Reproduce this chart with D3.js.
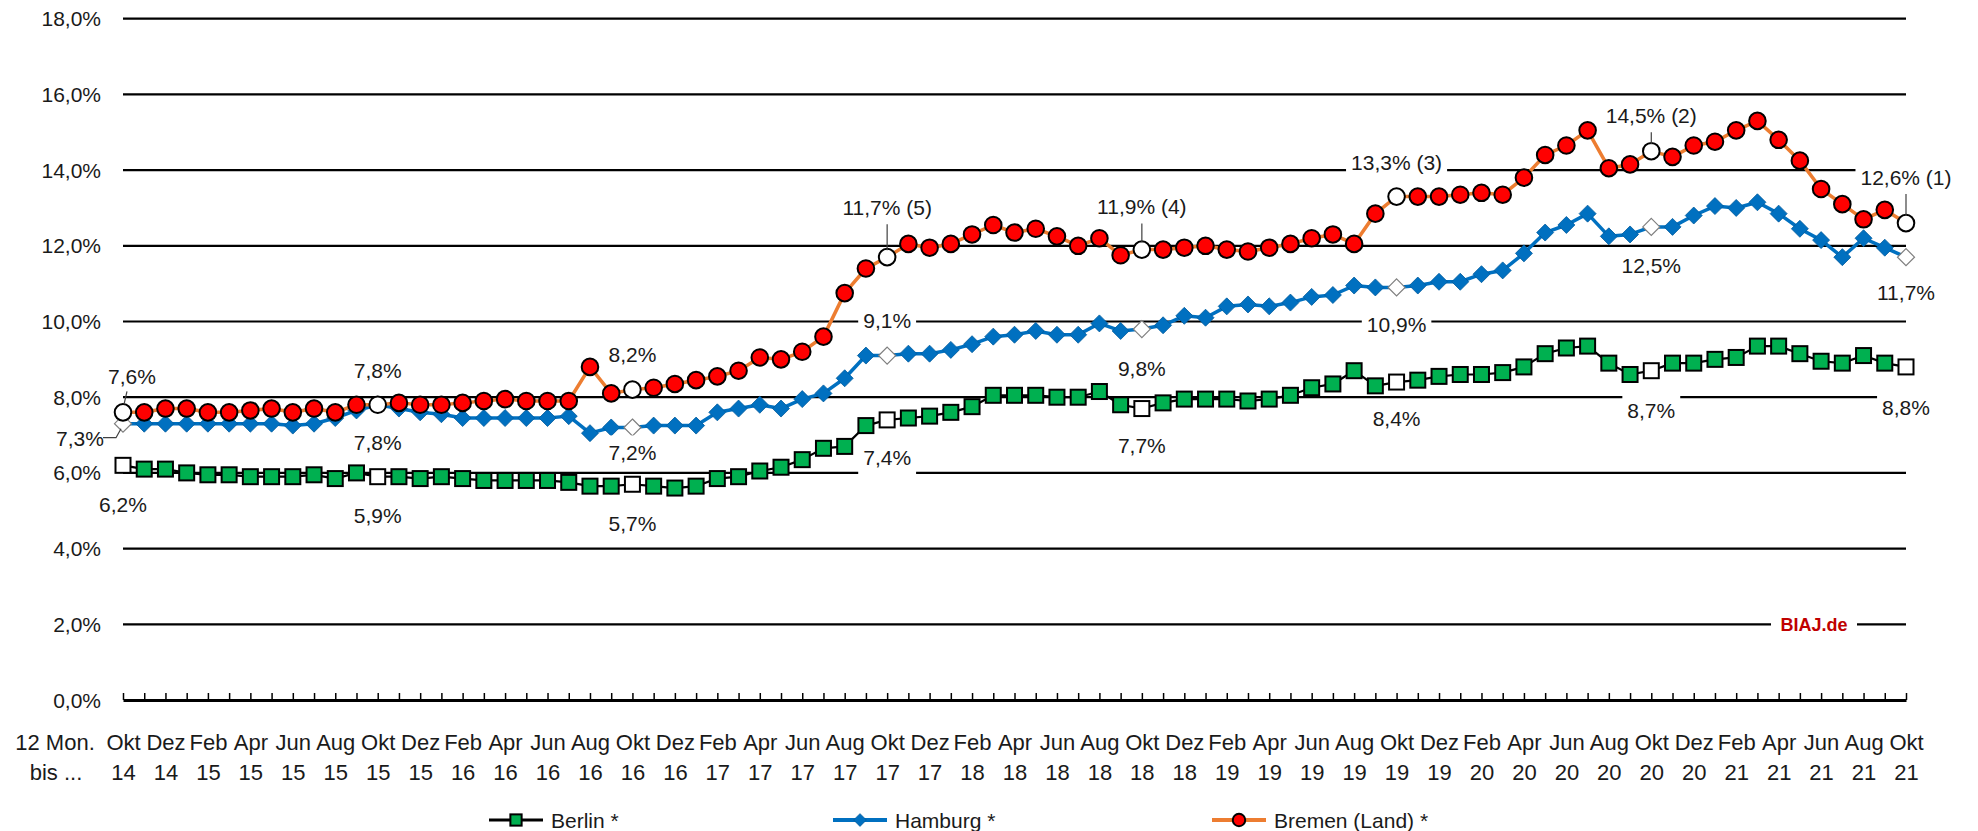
<!DOCTYPE html>
<html>
<head>
<meta charset="utf-8">
<script src="https://cdn.jsdelivr.net/npm/d3@7"></script>
<style>
  body { margin: 0; background: #fff; }
  svg text { font-family: "Liberation Sans", Arial, sans-serif; fill: #1a1a1a; }
</style>
</head>
<body>
<svg id="vis-svg"></svg>
<script>
// 12-Monats-Zeitraeume bis ... (Okt 14 - Okt 21)
const categories = [
  "Okt 14","Nov 14","Dez 14",
  "Jan 15","Feb 15","Mrz 15","Apr 15","Mai 15","Jun 15","Jul 15","Aug 15","Sep 15","Okt 15","Nov 15","Dez 15",
  "Jan 16","Feb 16","Mrz 16","Apr 16","Mai 16","Jun 16","Jul 16","Aug 16","Sep 16","Okt 16","Nov 16","Dez 16",
  "Jan 17","Feb 17","Mrz 17","Apr 17","Mai 17","Jun 17","Jul 17","Aug 17","Sep 17","Okt 17","Nov 17","Dez 17",
  "Jan 18","Feb 18","Mrz 18","Apr 18","Mai 18","Jun 18","Jul 18","Aug 18","Sep 18","Okt 18","Nov 18","Dez 18",
  "Jan 19","Feb 19","Mrz 19","Apr 19","Mai 19","Jun 19","Jul 19","Aug 19","Sep 19","Okt 19","Nov 19","Dez 19",
  "Jan 20","Feb 20","Mrz 20","Apr 20","Mai 20","Jun 20","Jul 20","Aug 20","Sep 20","Okt 20","Nov 20","Dez 20",
  "Jan 21","Feb 21","Mrz 21","Apr 21","Mai 21","Jun 21","Jul 21","Aug 21","Sep 21","Okt 21"
];

// only every second month gets a label
const tickLabels = [
  "Okt 14","Dez 14","Feb 15","Apr 15","Jun 15","Aug 15","Okt 15","Dez 15","Feb 16","Apr 16","Jun 16","Aug 16",
  "Okt 16","Dez 16","Feb 17","Apr 17","Jun 17","Aug 17","Okt 17","Dez 17","Feb 18","Apr 18","Jun 18","Aug 18",
  "Okt 18","Dez 18","Feb 19","Apr 19","Jun 19","Aug 19","Okt 19","Dez 19","Feb 20","Apr 20","Jun 20","Aug 20",
  "Okt 20","Dez 20","Feb 21","Apr 21","Jun 21","Aug 21","Okt 21"
];

const yTicks = [0, 2, 4, 6, 8, 10, 12, 14, 16, 18];

const berlin = [
  6.2, 6.1, 6.1, 6.0, 5.95, 5.95, 5.9, 5.9, 5.9, 5.95,
  5.85, 6.0, 5.9, 5.9, 5.85, 5.9, 5.85, 5.8, 5.8, 5.8,
  5.8, 5.75, 5.65, 5.65, 5.7, 5.65, 5.6, 5.65, 5.85, 5.9,
  6.05, 6.15, 6.35, 6.65, 6.7, 7.25, 7.4, 7.45, 7.5, 7.6,
  7.75, 8.05, 8.05, 8.05, 8.0, 8.0, 8.15, 7.8, 7.7, 7.85,
  7.95, 7.95, 7.95, 7.9, 7.95, 8.05, 8.25, 8.35, 8.7, 8.3,
  8.4, 8.45, 8.55, 8.6, 8.6, 8.65, 8.8, 9.15, 9.3, 9.35,
  8.9, 8.6, 8.7, 8.9, 8.9, 9.0, 9.05, 9.35, 9.35, 9.15,
  8.95, 8.9, 9.1, 8.9, 8.8
];

const hamburg = [
  7.3, 7.3, 7.3, 7.3, 7.3, 7.3, 7.3, 7.3, 7.25, 7.3,
  7.45, 7.65, 7.8, 7.7, 7.6, 7.55, 7.45, 7.45, 7.45, 7.45,
  7.45, 7.5, 7.05, 7.2, 7.2, 7.25, 7.25, 7.25, 7.6, 7.7,
  7.8, 7.7, 7.95, 8.1, 8.5, 9.1, 9.1, 9.15, 9.15, 9.25,
  9.4, 9.6, 9.65, 9.75, 9.65, 9.65, 9.95, 9.75, 9.8, 9.9,
  10.15, 10.1, 10.4, 10.45, 10.4, 10.5, 10.65, 10.7, 10.95, 10.9,
  10.9, 10.95, 11.05, 11.05, 11.25, 11.35, 11.8, 12.35, 12.55, 12.85,
  12.25, 12.3, 12.5, 12.5, 12.8, 13.05, 13.0, 13.15, 12.85, 12.45,
  12.15, 11.7, 12.2, 11.95, 11.7
];

const bremen = [
  7.6, 7.6, 7.7, 7.7, 7.6, 7.6, 7.65, 7.7, 7.6, 7.7,
  7.6, 7.8, 7.8, 7.85, 7.8, 7.8, 7.85, 7.9, 7.95, 7.9,
  7.9, 7.9, 8.8, 8.1, 8.2, 8.25, 8.35, 8.45, 8.55, 8.7,
  9.05, 9.0, 9.2, 9.6, 10.75, 11.4, 11.7, 12.05, 11.95, 12.05,
  12.3, 12.55, 12.35, 12.45, 12.25, 12.0, 12.2, 11.75, 11.9, 11.9,
  11.95, 12.0, 11.9, 11.85, 11.95, 12.05, 12.2, 12.3, 12.05, 12.85,
  13.3, 13.3, 13.3, 13.35, 13.4, 13.35, 13.8, 14.4, 14.65, 15.05,
  14.05, 14.15, 14.5, 14.35, 14.65, 14.75, 15.05, 15.3, 14.8, 14.25,
  13.5, 13.1, 12.7, 12.95, 12.6
];

// data labels at every October (white markers)
const berlinLabels  = ["6,2%", "5,9%", "5,7%", "7,4%", "7,7%", "8,4%", "8,7%", "8,8%"];
const hamburgLabels = ["7,3%", "7,8%", "7,2%", "9,1%", "9,8%", "10,9%", "12,5%", "11,7%"];
const bremenLabels  = ["7,6%", "7,8%", "8,2%", "11,7% (5)", "11,9% (4)", "13,3% (3)", "14,5% (2)", "12,6% (1)"];

const width = 1978, height = 831;

const svg = d3.select("#vis-svg")
    .attr("width", width)
    .attr("height", height);

// Set up scales
const x = d3.scalePoint().domain(categories).range([123, 1906]),
      y = d3.scaleLinear().domain([0, 18]).range([700, 18.7]);

const octIdx = categories.map((c, i) => c.startsWith("Okt") ? i : -1).filter(i => i >= 0);

// Gridlines
svg.append("g")
    .selectAll("line")
    .data(yTicks.filter(d => d > 0))
  .enter().append("line")
    .attr("x1", x.range()[0])
    .attr("x2", x.range()[1])
    .attr("y1", d => y(d))
    .attr("y2", d => y(d))
    .attr("stroke", "#000")
    .attr("stroke-width", 2.2);

// y axis labels
svg.append("g")
    .selectAll("text")
    .data(yTicks)
  .enter().append("text")
    .attr("x", 101)
    .attr("y", d => y(d))
    .attr("dy", "0.36em")
    .attr("text-anchor", "end")
    .style("font-size", "21px")
    .text(d => d3.format(".1f")(d).replace(".", ",") + "%");

// x axis with upward ticks
const xAxis = svg.append("g")
    .attr("transform", "translate(0," + y(0) + ")")
    .call(d3.axisBottom(x).tickSizeInner(-7).tickSizeOuter(0).tickFormat(d => tickLabels.includes(d) ? d : ""));
xAxis.select(".domain").attr("stroke", "#000").attr("stroke-width", 3);
xAxis.selectAll(".tick line").attr("stroke", "#000").attr("stroke-width", 1.5);
xAxis.selectAll(".tick text").each(function(d) {
    const t = d3.select(this);
    const parts = tickLabels.includes(d) ? d.split(" ") : ["", ""];
    t.text(null).attr("y", 0).attr("dy", null)
        .style("font-size", "22px").style("font-family", null).attr("fill", "#1a1a1a");
    t.append("tspan").attr("x", 0).attr("y", 50).text(parts[0]);
    t.append("tspan").attr("x", 0).attr("y", 80).text(parts[1]);
});

// "12 Mon. bis ..." caption
const cap = svg.append("text").attr("text-anchor", "middle").style("font-size", "22px");
cap.append("tspan").attr("x", 55).attr("y", y(0) + 50).text("12 Mon.");
cap.append("tspan").attr("x", 56).attr("y", y(0) + 80).text("bis ...");

// Series drawing
const series = [
    {name: "Berlin *", values: berlin, color: "#000", lw: 2.2, shape: "square", fill: "#00B050"},
    {name: "Hamburg *", values: hamburg, color: "#0070C0", lw: 3.5, shape: "diamond", fill: "#0070C0"},
    {name: "Bremen (Land) *", values: bremen, color: "#ED7D31", lw: 3.5, shape: "circle", fill: "#FF0000"}
];

function drawMarker(g, shape, cx, cy, fill, highlight, scale) {
    const s = scale || 1;
    if (shape === "square") {
        const h = 7.5 * s;
        g.append("rect")
            .attr("x", cx - h).attr("y", cy - h)
            .attr("width", 2 * h).attr("height", 2 * h)
            .attr("fill", highlight ? "#fff" : fill)
            .attr("stroke", "#000").attr("stroke-width", 2);
    } else if (shape === "diamond") {
        const h = 8.5 * s;
        g.append("path")
            .attr("d", `M${cx},${cy - h}L${cx + h},${cy}L${cx},${cy + h}L${cx - h},${cy}Z`)
            .attr("fill", highlight ? "#fff" : fill)
            .attr("stroke", highlight ? "#7f7f7f" : "#005a9c")
            .attr("stroke-width", highlight ? 1.2 : 0.8);
    } else {
        g.append("circle")
            .attr("cx", cx).attr("cy", cy).attr("r", 8.3 * s)
            .attr("fill", highlight ? "#fff" : fill)
            .attr("stroke", "#000").attr("stroke-width", 2);
    }
}

const line = d3.line()
    .x((d, i) => x(categories[i]))
    .y(d => y(d));

series.forEach(s => {
    const g = svg.append("g");
    g.append("path")
        .datum(s.values)
        .attr("fill", "none")
        .attr("stroke", s.color)
        .attr("stroke-width", s.lw)
        .attr("stroke-linejoin", "round")
        .attr("d", line);
    s.values.forEach((v, i) => {
        drawMarker(g, s.shape, x(categories[i]), y(v), s.fill, octIdx.includes(i));
    });
});

// Data labels (white box behind text, like Excel)
const labelLayer = svg.append("g");
function addLabel(cx, cy, txt, anchor) {
    const g = labelLayer.append("g");
    const t = g.append("text")
        .attr("x", cx).attr("y", cy).attr("dy", "0.36em")
        .attr("text-anchor", anchor || "middle")
        .style("font-size", "21px")
        .text(txt);
    const bb = t.node().getBBox();
    g.insert("rect", "text")
        .attr("x", bb.x - 5).attr("y", cy - 17)
        .attr("width", bb.width + 10).attr("height", 35)
        .attr("fill", "#fff");
}
function leader(x1, y1, x2, y2) {
    labelLayer.append("line")
        .attr("x1", x1).attr("y1", y1).attr("x2", x2).attr("y2", y2)
        .attr("stroke", "#404040").attr("stroke-width", 1.2);
}

const berlinDy  = [39, 39, 39, 38, 37, 36, 40, 41];
const hamburgDy = [15, 38, 25, -35, 39, 37, 39, 35];
const bremenDy  = [-36, -34, -35, -50, -43, -34, -36, -46];
const bremenLead = [false, false, false, true, true, false, true, true];

octIdx.forEach((i, k) => {
    const px = x(categories[i]);
    // Berlin
    addLabel(px, y(berlin[i]) + berlinDy[k], berlinLabels[k]);
    // Hamburg
    if (k === 0) {
        const ly = y(hamburg[i]) + hamburgDy[k];
        addLabel(px - 43, ly, hamburgLabels[k]);
        labelLayer.append("polyline")
            .attr("points", [[px - 20, ly - 1], [px - 7, ly - 1], [px - 2, y(hamburg[i]) + 5]].join(" "))
            .attr("fill", "none").attr("stroke", "#404040").attr("stroke-width", 1.2);
    } else {
        addLabel(px, y(hamburg[i]) + hamburgDy[k], hamburgLabels[k]);
    }
    // Bremen
    const py = y(bremen[i]);
    if (k === 0) {
        addLabel(px + 9, py + bremenDy[k], bremenLabels[k]);
        leader(px + 4, py + bremenDy[k] + 15, px + 1, py - 8);
    } else {
        addLabel(px, py + bremenDy[k], bremenLabels[k]);
        if (bremenLead[k]) leader(px, py + bremenDy[k] + 17, px, py - 7);
    }
});

// BIAJ.de watermark on the 2% line
const wm = svg.append("g");
wm.append("text")
    .attr("x", 1814).attr("y", y(2)).attr("dy", "0.36em")
    .attr("text-anchor", "middle")
    .style("font-size", "18px").style("font-weight", "bold")
    .style("fill", "#C00000")
    .text("BIAJ.de");
wm.insert("rect", "text")
    .attr("x", 1771).attr("y", y(2) - 10)
    .attr("width", 86).attr("height", 20)
    .attr("fill", "#fff");

// Legend
const legendX = [489, 833, 1212];
const legend = svg.append("g");
series.forEach((s, k) => {
    const lx = legendX[k], ly = 820;
    legend.append("line")
        .attr("x1", lx).attr("x2", lx + 54)
        .attr("y1", ly).attr("y2", ly)
        .attr("stroke", s.color).attr("stroke-width", s.shape === "square" ? 3 : 4);
    drawMarker(legend, s.shape, lx + 27, ly, s.fill, false, 0.75);
    legend.append("text")
        .attr("x", lx + 62).attr("y", ly).attr("dy", "0.36em")
        .style("font-size", "21px")
        .text(s.name);
});
</script>
</body>
</html>
